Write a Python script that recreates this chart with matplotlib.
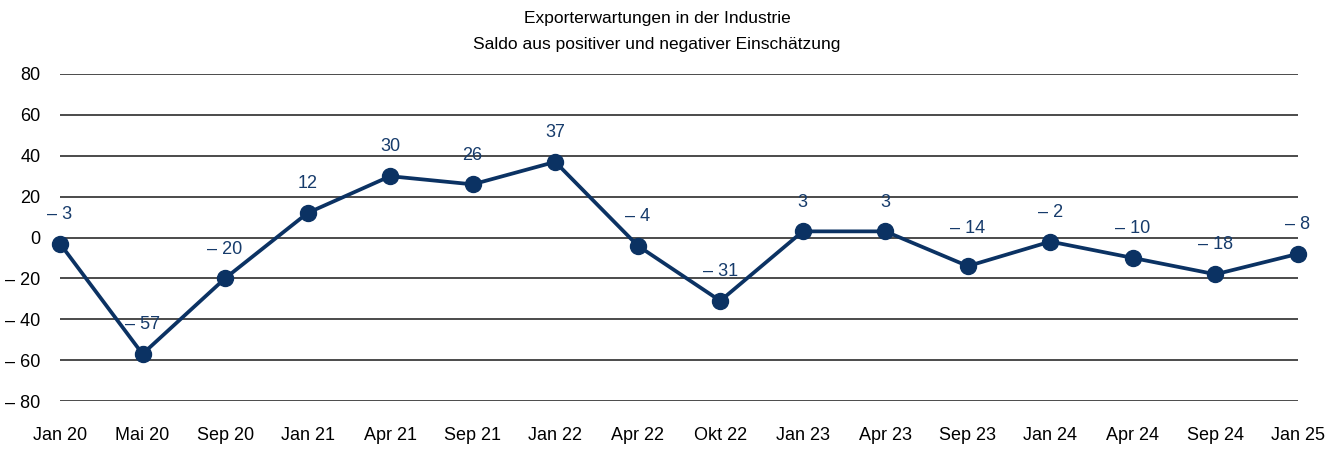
import matplotlib.pyplot as plt
import numpy as np

# Data
months = ["Jan 20", "Mai 20", "Sep 20", "Jan 21", "Apr 21", "Sep 21", "Jan 22", "Apr 22",
          "Okt 22", "Jan 23", "Apr 23", "Sep 23", "Jan 24", "Apr 24", "Sep 24", "Jan 25"]
saldo = [-3, -57, -20, 12, 30, 26, 37, -4, -31, 3, 3, -14, -2, -10, -18, -8]
yticks = [-80, -60, -40, -20, 0, 20, 40, 60, 80]

navy = "#0b3263"
plt.rcParams['font.family'] = ['Liberation Sans', 'DejaVu Sans']


def fmt(v):
    """Minus sign as en dash with a space, like the original"""
    return ("\u2013 " + str(abs(v))) if v < 0 else str(v)


fig = plt.figure(figsize=(13.39, 4.5), dpi=100)
ax = fig.add_axes([60 / 1339, 1 - 401 / 450, (1298 - 60) / 1339, (401 - 74) / 450])

x = np.arange(len(months))
ax.plot(x, saldo, color=navy, lw=2.7, marker="o", markersize=11.5, zorder=5, clip_on=False)
# label above each point; the Sep 23 label sits a bit higher to clear the zero line
for i, (xi, v) in enumerate(zip(x, saldo)):
    dy = 21 if months[i] == "Sep 23" else 15
    ax.annotate(fmt(v), (xi, v), xytext=(0, dy), textcoords="offset points",
                ha="center", va="bottom", color="#163b6b", fontsize=13)

ax.set_xlim(0, len(months) - 1)
ax.set_ylim(-80, 80)
ax.set_yticks(yticks)
ax.set_yticklabels([fmt(t) for t in yticks], fontsize=13)
ax.set_xticks(x)
ax.set_xticklabels(months, fontsize=13)
ax.tick_params(axis="both", length=0)
ax.tick_params(axis="y", pad=14)
ax.tick_params(axis="x", pad=19)
for spine in ax.spines.values():
    spine.set_visible(False)
ax.yaxis.grid(True, color="#1a1a1a", lw=1.1, zorder=0)
ax.xaxis.grid(False)

fig.text(657 / 1339, 1 - 18 / 450, "Exporterwartungen in der Industrie",
         ha="center", va="center", fontsize=12.5)
fig.text(657 / 1339, 1 - 44 / 450, "Saldo aus positiver und negativer Einschätzung",
         ha="center", va="center", fontsize=12.5)

plt.savefig("out.png", dpi=100)
plt.close()
